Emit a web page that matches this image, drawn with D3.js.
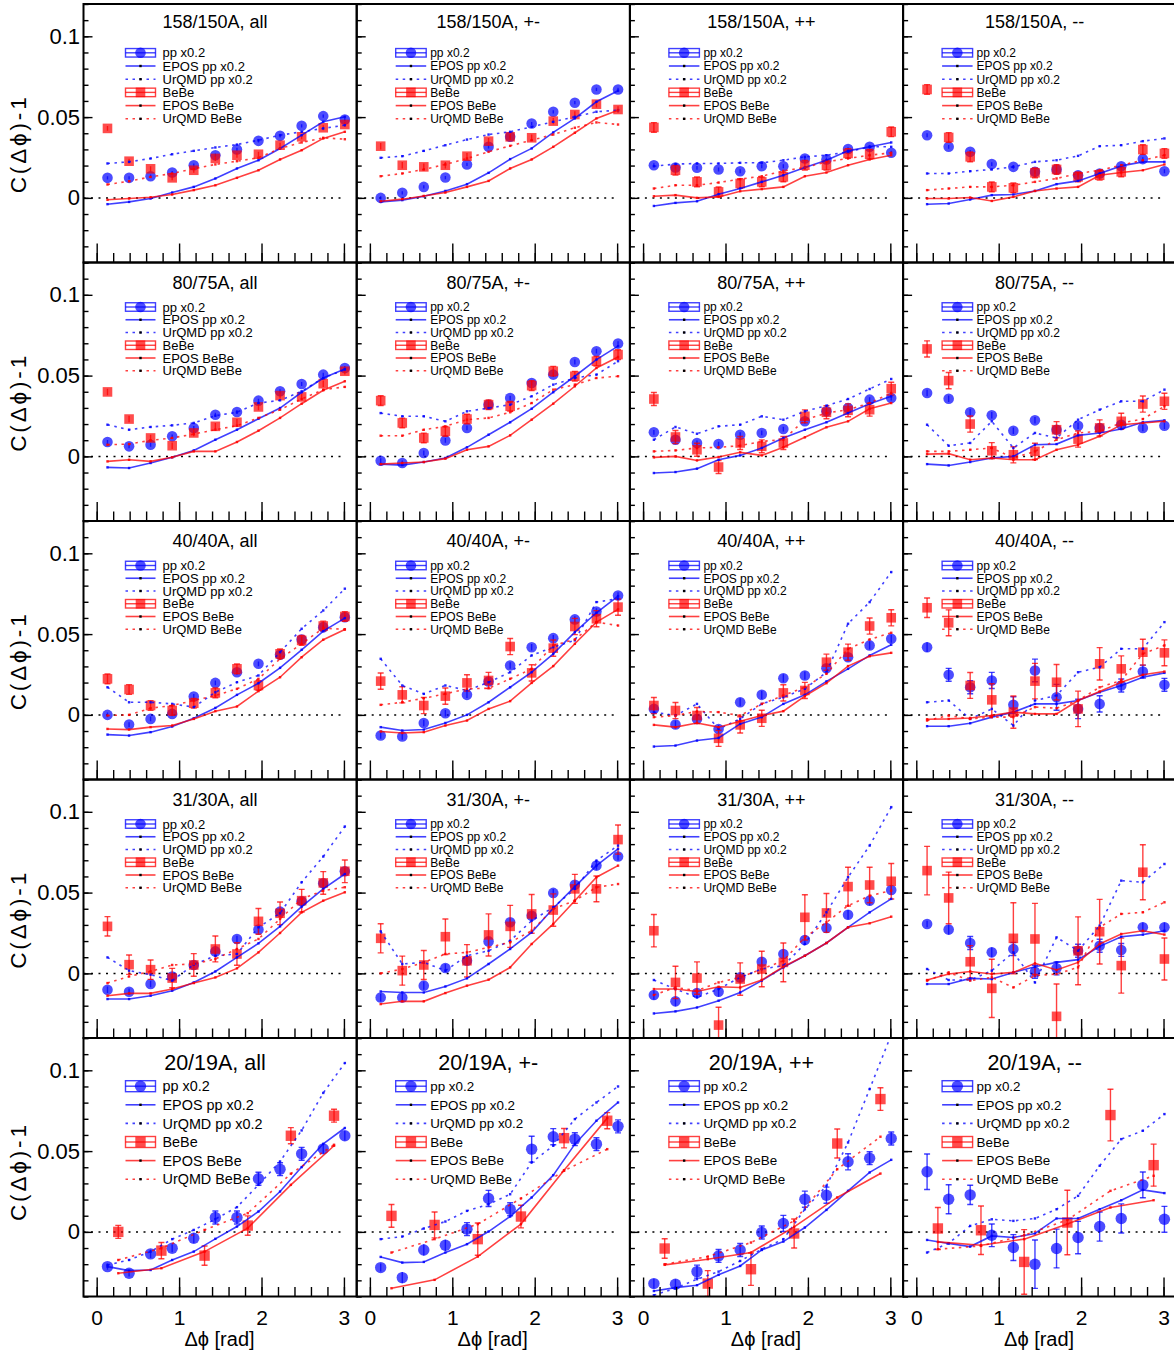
<!DOCTYPE html>
<html>
<head>
<meta charset="utf-8">
<script src="https://cdn.jsdelivr.net/npm/d3@7"></script>
<style>
  body { margin: 0; background: #fff; }
  svg text { font-family: "Liberation Sans", Arial, sans-serif; fill: #000; }
</style>
</head>
<body>
<div id="chart"></div>
<script>
// beam momenta (rows) and charge combinations (columns)
const energies = ["158/150A", "80/75A", "40/40A", "31/30A", "20/19A"];
const charges = ["all", "+-", "++", "--"];
const legendLabels = ["pp x0.2", "EPOS pp x0.2", "UrQMD pp x0.2", "BeBe", "EPOS BeBe", "UrQMD BeBe"];

// bin centres in delta phi
const bins12 = [0.131, 0.393, 0.654, 0.916, 1.178, 1.440, 1.702, 1.963, 2.225, 2.487, 2.749, 3.011];
const bins6 = [0.262, 0.785, 1.309, 1.833, 2.356, 2.880];

// panels are listed row by row: 158 (all,+-,++,--), 80, 40, 31, 20
const ppData = [
  [0.0124, 0.0124, 0.0134, 0.0157, 0.0202, 0.0264, 0.030, 0.0353, 0.0384, 0.0446, 0.0506, 0.0485],
  [0.0, 0.0031, 0.0068, 0.0126, 0.0207, 0.0316, 0.0378, 0.046, 0.0533, 0.0589, 0.0671, 0.0671],
  [0.0202, 0.0188, 0.0186, 0.0176, 0.0165, 0.0196, 0.0196, 0.0244, 0.0238, 0.0302, 0.0316, 0.0279],
  [0.0388, 0.0316, 0.0285, 0.0209, 0.0192, 0.0161, 0.0176, 0.014, 0.0151, 0.0196, 0.024, 0.0165],
  [0.0089, 0.0062, 0.0072, 0.0124, 0.0176, 0.0258, 0.0275, 0.0345, 0.0403, 0.0448, 0.0506, 0.0547],
  [-0.0027, -0.0041, 0.0021, 0.0099, 0.0176, 0.032, 0.0361, 0.0454, 0.0506, 0.0584, 0.0651, 0.0698],
  [0.0149, 0.0103, 0.0083, 0.0076, 0.0134, 0.0145, 0.0169, 0.0217, 0.0279, 0.0299, 0.0351, 0.0361],
  [0.0392, 0.0357, 0.0273, 0.0254, 0.0159, 0.0223, 0.0165, 0.019, 0.0176, 0.0196, 0.0176, 0.019],
  [0.0, -0.006, -0.0025, 0.0006, 0.0114, 0.0198, 0.0264, 0.0316, 0.0372, 0.0467, 0.0543, 0.0605],
  [-0.0128, -0.0134, -0.005, 0.001, 0.0124, 0.0207, 0.0306, 0.0419, 0.0475, 0.0591, 0.064, 0.0739],
  [0.0037, -0.006, -0.0025, -0.0087, 0.0078, 0.0124, 0.0227, 0.0244, 0.0289, 0.0357, 0.043, 0.0471],
  [0.0419, 0.0248, 0.0171, 0.0213, 0.0062, 0.0275, 0.0109, 0.0037, 0.0068, 0.0182, 0.0268, 0.0186],
  [-0.0101, -0.0114, -0.0066, -0.0019, 0.0052, 0.0136, 0.0213, 0.0271, 0.0382, 0.0446, 0.0558, 0.0632],
  [-0.0149, -0.0149, -0.0076, 0.0033, 0.0078, 0.0198, 0.0316, 0.0357, 0.0498, 0.0549, 0.0667, 0.0723],
  [-0.0134, -0.0173, -0.0122, -0.0114, -0.0025, 0.0072, 0.012, 0.0207, 0.0281, 0.0363, 0.045, 0.0516],
  [0.0306, 0.0271, 0.0188, 0.013, 0.0151, 0.001, 0.0031, 0.014, 0.0171, 0.0145, 0.0285, 0.0285],
  [-0.0215, -0.0256, -0.0136, -0.0101, -0.0039, 0.0089, 0.0089, 0.0329, 0.0388, 0.0483, 0.0514, 0.0595],
  [-0.0221, -0.0283, -0.0112, -0.0083, 0.0017, 0.0207, 0.014, 0.0512, 0.0589, 0.0574, 0.0543, 0.0653],
  [-0.032, -0.0324, -0.0246, -0.0149, -0.0112, -0.0004, 0.0052, 0.0202, 0.0227, 0.0434, 0.0456, 0.0578],
  [0.0372, 0.0202, 0.0229, -0.0021, -0.0097, -0.02, -0.0103, -0.0035, 0.0033, 0.0083, 0.0291, 0.0078]
];
const ppErr = [
  0.001, 0.001, 0.0012, 0.0012,
  0.0012, 0.0015, 0.0015, 0.002,
  0.0015, 0.002, 0.0025,
  [0.003, 0.004, 0.004, 0.005, 0.005, 0.007, 0.008, 0.006, 0.005, 0.004, 0.004, 0.004],
  0.002, 0.0025, 0.003,
  [0.002, 0.003, 0.004, 0.003, 0.004, 0.004, 0.004, 0.004, 0.004, 0.004, 0.003, 0.003],
  [0.002, 0.002, 0.0025, 0.0025, 0.003, 0.004, 0.004, 0.004, 0.004, 0.004, 0.003, 0.003],
  [0.0025, 0.0035, 0.0035, 0.0035, 0.004, 0.005, 0.004, 0.008, 0.005, 0.004, 0.004, 0.004],
  [0.003, 0.003, 0.004, 0.004, 0.004, 0.004, 0.005, 0.005, 0.005, 0.005, 0.004, 0.004],
  [0.011, 0.009, 0.006, 0.007, 0.008, 0.015, 0.012, 0.01, 0.009, 0.009, 0.008, 0.008]
];

const beData = [
  [0.043, 0.0227, 0.018, 0.0124, 0.0171, 0.0244, 0.0264, 0.027, 0.0326, 0.0378, 0.0434, 0.0454],
  [0.032, 0.0202, 0.0192, 0.0202, 0.0258, 0.0351, 0.0378, 0.0372, 0.0475, 0.0516, 0.058, 0.0547],
  [0.0436, 0.0171, 0.0099, 0.0037, 0.0089, 0.0099, 0.013, 0.0202, 0.0202, 0.0275, 0.027, 0.0409],
  [0.0671, 0.0374, 0.0254, 0.0068, 0.0062, 0.0155, 0.0176, 0.013, 0.014, 0.0161, 0.0299, 0.0275],
  [0.0399, 0.0231, 0.0114, 0.0066, 0.0145, 0.0186, 0.0211, 0.0306, 0.0376, 0.0368, 0.045, 0.0527],
  [0.0345, 0.0207, 0.0114, 0.0155, 0.0231, 0.032, 0.031, 0.0438, 0.0527, 0.0496, 0.0589, 0.063],
  [0.0355, 0.012, 0.0041, -0.0066, 0.0083, 0.0062, 0.0083, 0.0248, 0.0273, 0.0285, 0.0289, 0.0419],
  [0.0665, 0.0469, 0.02, 0.0035, 0.001, 0.0031, 0.0165, 0.0107, 0.0176, 0.0217, 0.0324, 0.0341],
  [0.0223, 0.0157, 0.0058, 0.0027, 0.0072, 0.0136, 0.0285, 0.0182, 0.0378, 0.0461, 0.055, 0.0609],
  [0.0209, 0.0124, 0.0058, 0.0116, 0.0198, 0.0213, 0.0423, 0.026, 0.0413, 0.0547, 0.0595, 0.0667],
  [0.0058, 0.0027, -0.0004, -0.0145, -0.0062, -0.0021, 0.0136, 0.0151, 0.0326, 0.0388, 0.055, 0.0601],
  [0.0663, 0.057, 0.0182, 0.0093, 0.0017, 0.0209, 0.0202, 0.0037, 0.0316, 0.0285, 0.0388, 0.0384],
  [0.0291, 0.0054, 0.0023, -0.0029, 0.0052, 0.0151, 0.012, 0.0322, 0.0372, 0.045, 0.056, 0.0632],
  [0.0217, 0.0017, 0.0052, 0.0227, 0.0078, 0.0238, 0.0291, 0.0368, 0.0392, 0.0523, 0.0523, 0.0828],
  [0.0264, -0.0056, -0.0029, -0.032, -0.0035, 0.0027, 0.0068, 0.0347, 0.0374, 0.0537, 0.0547, 0.057],
  [0.0636, 0.0467, 0.0072, -0.0093, 0.0217, 0.0213, -0.0266, 0.014, 0.0258, 0.0048, 0.0626, 0.0089],
  [0.0, -0.0116, -0.0147, 0.0039, 0.0595, 0.0719],
  [0.0099, 0.0043, -0.0045, 0.0095, 0.058, 0.0688],
  [-0.0103, -0.032, -0.0231, -0.001, 0.0547, 0.0822],
  [0.0021, 0.001, -0.0186, 0.0058, 0.0723, 0.0413]
];
const beErr = [
  0.0015, 0.002, 0.003, 0.003,
  0.002, 0.003, 0.004, 0.005,
  0.003, 0.005, 0.005,
  [0.006, 0.008, 0.008, 0.01, 0.01, 0.011, 0.011, 0.011, 0.01, 0.008, 0.008, 0.008],
  [0.006, 0.006, 0.006, 0.006, 0.007, 0.008, 0.007, 0.008, 0.007, 0.007, 0.007, 0.007],
  [0.009, 0.009, 0.009, 0.011, 0.01, 0.013, 0.013, 0.012, 0.01, 0.009, 0.008, 0.009],
  [0.01, 0.01, 0.01, 0.011, 0.01, 0.011, 0.012, 0.014, 0.012, 0.012, 0.011, 0.011],
  [0.015, 0.016, 0.01, 0.018, 0.022, 0.022, 0.02, 0.021, 0.02, 0.017, 0.017, 0.013],
  [0.004, 0.005, 0.006, 0.006, 0.005, 0.004],
  [0.007, 0.008, 0.01, 0.007, 0.006, 0.005],
  [0.006, 0.008, 0.01, 0.009, 0.009, 0.007],
  [0.013, 0.015, 0.02, 0.02, 0.016, 0.013]
];

const eposPP = [
  [-0.0039, -0.0025, -0.0004, 0.0033, 0.0068, 0.012, 0.0182, 0.0233, 0.0306, 0.0388, 0.0471, 0.0502],
  [-0.0025, -0.0014, 0.001, 0.0043, 0.0085, 0.0155, 0.024, 0.0306, 0.0405, 0.0492, 0.0595, 0.0663],
  [-0.005, -0.0031, -0.0021, 0.0023, 0.0058, 0.0099, 0.014, 0.0188, 0.0233, 0.0291, 0.0316, 0.0343],
  [-0.0039, -0.0035, -0.001, 0.0017, 0.0021, 0.0043, 0.0085, 0.0105, 0.0151, 0.0198, 0.0223, 0.0223],
  [-0.0068, -0.0072, -0.0041, -0.0006, 0.0037, 0.0103, 0.0165, 0.0233, 0.0299, 0.0397, 0.0485, 0.0541],
  [-0.0048, -0.0054, -0.0035, -0.001, 0.0056, 0.0134, 0.0211, 0.0295, 0.0397, 0.0496, 0.0599, 0.0682],
  [-0.0103, -0.0097, -0.0076, -0.0021, 0.0006, 0.0052, 0.0114, 0.0165, 0.0211, 0.0268, 0.0326, 0.0372],
  [-0.0048, -0.0056, -0.0035, -0.001, 0.0, 0.0072, 0.0076, 0.013, 0.0145, 0.0169, 0.0211, 0.0223],
  [-0.0122, -0.0128, -0.0107, -0.0072, -0.0021, 0.0043, 0.0124, 0.0196, 0.0291, 0.0403, 0.0518, 0.0599],
  [-0.0076, -0.0097, -0.0091, -0.005, 0.0, 0.0078, 0.0171, 0.0264, 0.0378, 0.0512, 0.0632, 0.0735],
  [-0.0196, -0.019, -0.0159, -0.0143, -0.0056, -0.0014, 0.0068, 0.0124, 0.0207, 0.0285, 0.0368, 0.0434],
  [-0.007, -0.007, -0.0052, -0.0014, 0.0017, 0.0068, 0.0068, 0.0089, 0.014, 0.0182, 0.0233, 0.026],
  [-0.0159, -0.0159, -0.0138, -0.0107, -0.0056, 0.0012, 0.0099, 0.0186, 0.0291, 0.0413, 0.0523, 0.0615],
  [-0.0112, -0.0118, -0.0118, -0.0081, -0.0031, 0.0058, 0.0151, 0.0254, 0.0403, 0.0537, 0.0667, 0.077],
  [-0.0248, -0.0235, -0.0211, -0.0169, -0.0118, -0.0045, 0.0037, 0.0109, 0.0188, 0.0285, 0.0378, 0.0461],
  [-0.0066, -0.0066, -0.0031, -0.0035, 0.0006, 0.0041, 0.0068, 0.0085, 0.0167, 0.0227, 0.024, 0.0264],
  [-0.0215, -0.024, -0.0236, -0.0174, -0.0122, -0.0043, 0.0033, 0.0126, 0.025, 0.0401, 0.0545, 0.0643],
  [-0.0155, -0.019, -0.0186, -0.0128, -0.0076, 0.0002, 0.0095, 0.0213, 0.0351, 0.0543, 0.0688, 0.0801],
  [-0.0366, -0.0345, -0.033, -0.0266, -0.0211, -0.0112, -0.006, 0.0027, 0.0136, 0.0254, 0.0368, 0.0446],
  [-0.005, -0.0072, -0.0091, -0.0025, -0.0035, -0.001, 0.0083, 0.0083, 0.014, 0.0196, 0.026, 0.024]
];

const eposBe = [
  [-0.0012, -0.0004, 0.0004, 0.0021, 0.0048, 0.0078, 0.0124, 0.0171, 0.0238, 0.0295, 0.0368, 0.0409],
  [-0.0021, -0.0008, 0.0012, 0.0033, 0.0068, 0.0105, 0.0182, 0.0238, 0.0316, 0.0403, 0.0492, 0.0543],
  [0.001, 0.0017, 0.0, 0.0006, 0.0041, 0.0054, 0.0068, 0.0134, 0.0157, 0.0202, 0.0238, 0.0264],
  [-0.0004, -0.0004, 0.0002, -0.0019, 0.0006, 0.0043, 0.0058, 0.0068, 0.014, 0.0157, 0.0171, 0.0207],
  [-0.0031, -0.0021, -0.0031, -0.0006, 0.0031, 0.0031, 0.0089, 0.0159, 0.0238, 0.0326, 0.0409, 0.0465],
  [-0.0048, -0.0041, -0.0035, -0.0014, 0.0041, 0.0062, 0.013, 0.0227, 0.0326, 0.0434, 0.0547, 0.0615],
  [-0.0006, 0.0, -0.0025, -0.0004, 0.0025, 0.0006, 0.0056, 0.0118, 0.018, 0.0217, 0.0295, 0.033],
  [0.0014, 0.0017, -0.0021, -0.001, -0.0021, -0.0021, 0.0041, 0.0072, 0.0124, 0.0196, 0.0207, 0.0217],
  [-0.0087, -0.0091, -0.0076, -0.0066, -0.0025, 0.0023, 0.0052, 0.0147, 0.0233, 0.0357, 0.0465, 0.0529],
  [-0.0103, -0.0112, -0.0107, -0.0066, -0.0035, 0.0037, 0.0085, 0.0198, 0.0302, 0.044, 0.0574, 0.0653],
  [-0.0062, -0.0076, -0.005, -0.0076, -0.0039, -0.0004, 0.0023, 0.0116, 0.0196, 0.0302, 0.0363, 0.0384],
  [-0.0027, -0.0025, -0.0019, -0.0004, 0.0017, 0.0006, 0.0006, 0.0089, 0.0145, 0.0202, 0.0248, 0.0268],
  [-0.0138, -0.0124, -0.0124, -0.0097, -0.006, -0.0025, 0.0031, 0.013, 0.025, 0.0378, 0.045, 0.0502],
  [-0.019, -0.0173, -0.0173, -0.0122, -0.0076, -0.0039, 0.0037, 0.0182, 0.0306, 0.045, 0.0595, 0.0667],
  [-0.0097, -0.0097, -0.0112, -0.0083, -0.0087, -0.0041, 0.0041, 0.0109, 0.0188, 0.0285, 0.031, 0.0351],
  [-0.0041, -0.0004, 0.0012, -0.0004, 0.0006, 0.0062, 0.0021, 0.0068, 0.0182, 0.0244, 0.0264, 0.024],
  [-0.0256, -0.0225, -0.0122, 0.0023, 0.0291, 0.0533],
  [-0.0349, -0.0297, -0.0153, 0.0048, 0.0382, 0.0704],
  [-0.0204, -0.0169, -0.0128, 0.0031, 0.0213, 0.0361],
  [-0.0062, -0.0083, -0.0045, 0.0048, 0.0151, 0.0196]
];

const urqmdPP = [
  [0.0213, 0.0223, 0.0244, 0.027, 0.0291, 0.0312, 0.033, 0.0357, 0.0388, 0.0409, 0.043, 0.045],
  [0.0248, 0.0258, 0.0291, 0.0326, 0.0361, 0.0392, 0.0409, 0.044, 0.0471, 0.0502, 0.0533, 0.0543],
  [0.0196, 0.0209, 0.0213, 0.0213, 0.0217, 0.0217, 0.0233, 0.0254, 0.0264, 0.0285, 0.0316, 0.0316],
  [0.0151, 0.0151, 0.0165, 0.0176, 0.0192, 0.0223, 0.0233, 0.026, 0.032, 0.0326, 0.0351, 0.0368],
  [0.0196, 0.0165, 0.0182, 0.0192, 0.0207, 0.0252, 0.0273, 0.033, 0.0347, 0.0403, 0.0485, 0.0537],
  [0.0268, 0.0248, 0.0248, 0.0217, 0.0279, 0.0299, 0.032, 0.0372, 0.0444, 0.0485, 0.0506, 0.0589],
  [0.0103, 0.0182, 0.014, 0.0186, 0.0196, 0.0248, 0.0227, 0.0279, 0.0314, 0.0355, 0.0417, 0.0479],
  [0.0196, 0.0066, 0.0083, 0.0217, 0.0052, 0.0145, 0.0114, 0.0227, 0.0289, 0.0341, 0.0341, 0.0413],
  [0.0171, 0.0078, 0.0078, 0.0068, 0.0048, 0.014, 0.0202, 0.0244, 0.0388, 0.0533, 0.0646, 0.0781],
  [0.0347, 0.0182, 0.013, 0.0182, 0.0151, 0.0202, 0.0264, 0.0368, 0.0419, 0.0461, 0.0698, 0.0719],
  [0.0017, -0.0004, 0.0068, -0.0087, -0.0025, 0.0068, 0.0109, 0.0161, 0.0264, 0.0564, 0.0698, 0.0884],
  [0.0078, 0.0089, -0.0025, 0.0037, -0.0066, 0.0089, 0.012, 0.0264, 0.0295, 0.0409, 0.0409, 0.0574],
  [0.0099, 0.0017, -0.0008, -0.0045, 0.0054, 0.0109, 0.012, 0.0285, 0.0372, 0.0564, 0.0723, 0.0909],
  [0.026, 0.0058, 0.0068, 0.0017, 0.0109, 0.014, 0.0202, 0.0326, 0.0409, 0.0523, 0.0698, 0.0791],
  [-0.0041, -0.0097, -0.0149, -0.0097, -0.0025, 0.0027, 0.0048, 0.0182, 0.0378, 0.0595, 0.0791, 0.1029],
  [0.0027, -0.0041, -0.0041, 0.0017, 0.013, -0.0056, 0.0223, 0.014, 0.0295, 0.0574, 0.0564, 0.0677],
  [-0.0205, -0.0174, -0.0122, -0.0045, 0.0012, 0.0079, 0.0153, 0.0291, 0.0436, 0.0628, 0.086, 0.1045],
  [-0.0045, -0.0029, 0.0021, 0.0064, 0.013, 0.0171, 0.0233, 0.043, 0.0533, 0.0698, 0.0801, 0.09],
  [-0.0392, -0.0349, -0.0293, -0.0246, -0.018, -0.0107, -0.0045, 0.014, 0.0285, 0.0553, 0.0884, 0.122],
  [-0.0128, -0.007, 0.0037, 0.0078, 0.0068, 0.0083, 0.014, 0.0223, 0.0409, 0.0574, 0.0626, 0.0729]
];

const urqmdBe = [
  [0.0083, 0.0103, 0.013, 0.0151, 0.018, 0.0207, 0.0227, 0.0248, 0.0306, 0.0343, 0.0372, 0.0363],
  [0.0134, 0.0151, 0.0176, 0.0207, 0.0244, 0.0285, 0.0322, 0.0357, 0.0392, 0.0434, 0.0467, 0.0454],
  [0.0058, 0.0078, 0.0078, 0.0095, 0.0116, 0.0134, 0.0167, 0.0188, 0.0223, 0.0244, 0.0264, 0.0279],
  [0.0048, 0.0058, 0.0068, 0.0068, 0.0078, 0.0099, 0.012, 0.0151, 0.0171, 0.0202, 0.0233, 0.0264],
  [0.0072, 0.0076, 0.0099, 0.0114, 0.0138, 0.0165, 0.019, 0.0238, 0.0289, 0.0355, 0.0413, 0.043],
  [0.0128, 0.0128, 0.0165, 0.0186, 0.0227, 0.0238, 0.0273, 0.033, 0.0413, 0.0444, 0.0485, 0.0496],
  [0.0031, 0.0037, 0.0052, 0.0056, 0.0066, 0.0093, 0.0103, 0.0227, 0.0268, 0.0289, 0.033, 0.0392],
  [0.0031, 0.0031, 0.0041, 0.0052, -0.001, 0.0031, 0.0103, 0.0145, 0.0155, 0.0207, 0.0231, 0.031],
  [-0.0004, 0.0, 0.0041, 0.0058, 0.0089, 0.012, 0.0161, 0.0223, 0.0347, 0.044, 0.0537, 0.0529],
  [0.0062, 0.0078, 0.0103, 0.013, 0.0161, 0.0165, 0.0223, 0.0285, 0.043, 0.0467, 0.0574, 0.0553],
  [-0.0014, -0.0004, 0.0021, 0.0017, -0.0004, 0.0068, 0.012, 0.0171, 0.0254, 0.0409, 0.0467, 0.0508],
  [-0.0035, -0.0004, -0.0025, -0.0014, -0.0014, 0.0048, 0.0041, 0.0089, 0.0171, 0.0213, 0.0378, 0.043],
  [-0.006, -0.0019, 0.0012, 0.0052, 0.0058, 0.0089, 0.0151, 0.0213, 0.0337, 0.0461, 0.0512, 0.0533],
  [0.0, 0.0027, 0.0068, 0.012, 0.013, 0.0161, 0.0192, 0.0264, 0.0399, 0.045, 0.0533, 0.0553],
  [-0.0134, -0.0087, -0.0107, -0.0056, -0.0025, 0.0027, 0.0078, 0.0223, 0.0316, 0.0419, 0.0481, 0.0512],
  [-0.0045, 0.0006, -0.0045, -0.0025, -0.0087, -0.0014, -0.0004, 0.0037, 0.0285, 0.0368, 0.0378, 0.044],
  [-0.0174, -0.0101, 0.0012, 0.0116, 0.036, 0.0539],
  [-0.0128, -0.0045, 0.0048, 0.0207, 0.0378, 0.0512],
  [-0.02, -0.0153, -0.0066, 0.0068, 0.0388, 0.0589],
  [-0.0107, -0.0087, -0.0021, 0.0074, 0.0254, 0.0347]
];

const xMajorTicks = [0, 1, 2, 3];
const yMajorTicks = [0, 0.05, 0.1];

const W = 1174, H = 1354;
const left0 = 83.5, top0 = 4, panelW = 273.2, panelH = 258.5;
const blue = '#0000ff', red = '#ff0000';

const svg = d3.select('#chart').append('svg')
  .attr('width', W)
  .attr('height', H);

const x = d3.scaleLinear().domain([-0.16, 3.155]).range([0, panelW]);
const y = d3.scaleLinear().domain([-0.04, 0.12]).range([panelH, 0]);

const xMinorTicks = d3.range(0, 16).map(i => i * 0.2);
const yMinorTicks = d3.range(-4, 13).map(i => i / 100);

function errAt(err, i) {
  return Array.isArray(err) ? err[i] : err;
}

function drawModel(g, xs, vals, color, dashed) {
  const pts = xs.map((xv, i) => [xv, vals[i]]);
  const line = d3.line().x(d => x(d[0])).y(d => y(d[1]));
  g.append('path')
    .datum(pts)
    .attr('fill', 'none')
    .attr('stroke', color)
    .attr('stroke-opacity', 0.75)
    .attr('stroke-width', 1.6)
    .attr('stroke-dasharray', dashed ? '2.5,4.5' : null)
    .attr('d', line);
  g.selectAll(null)
    .data(pts)
    .enter().append('rect')
    .attr('x', d => x(d[0]) - 1.2)
    .attr('y', d => y(d[1]) - 1.2)
    .attr('width', 2.4)
    .attr('height', 2.4)
    .attr('fill', color)
    .attr('opacity', 0.85);
}

function drawData(g, xs, vals, err, color, shape, size) {
  const pts = xs.map((xv, i) => ({ x: xv, v: vals[i], e: errAt(err, i) }));
  const eb = g.append('g')
    .attr('stroke', color)
    .attr('stroke-opacity', 0.75)
    .attr('stroke-width', 1.4);
  pts.forEach(d => {
    const cx = x(d.x), y1 = y(d.v - d.e), y2 = y(d.v + d.e);
    eb.append('line').attr('x1', cx).attr('x2', cx).attr('y1', y1).attr('y2', y2);
    if (y1 - y2 > size * 2) {
      eb.append('line').attr('x1', cx - 3).attr('x2', cx + 3).attr('y1', y1).attr('y2', y1);
      eb.append('line').attr('x1', cx - 3).attr('x2', cx + 3).attr('y1', y2).attr('y2', y2);
    }
  });
  if (shape === 'circle') {
    g.selectAll(null)
      .data(pts)
      .enter().append('circle')
      .attr('cx', d => x(d.x))
      .attr('cy', d => y(d.v))
      .attr('r', size)
      .attr('fill', color)
      .attr('fill-opacity', 0.7);
  } else {
    g.selectAll(null)
      .data(pts)
      .enter().append('rect')
      .attr('x', d => x(d.x) - size)
      .attr('y', d => y(d.v) - size)
      .attr('width', size * 2)
      .attr('height', size * 2)
      .attr('fill', color)
      .attr('fill-opacity', 0.7);
  }
}

function drawLegend(g, r, c) {
  const bottomRow = r === 4;
  const y0 = bottomRow ? 48.2 : (r === 0 ? 48.8 : 44.5);
  const dy = bottomRow ? 18.6 : (r === 0 ? 13.2 : 12.75);
  const sx0 = c === 0 ? 42 : 39;
  const sx1 = c === 0 ? 72 : 69.5;
  const tx = c === 0 ? 79 : 73.5;
  const fs = bottomRow ? (c === 0 ? 14.4 : 13.4) : (c === 0 ? 13 : 12);
  const boxH = bottomRow ? 11 : 8.5;
  const mid = (sx0 + sx1) / 2;
  legendLabels.forEach((label, i) => {
    const cy = y0 + i * dy;
    const color = i < 3 ? blue : red;
    const kind = i % 3;
    if (kind === 0) {
      g.append('rect')
        .attr('x', sx0).attr('y', cy - boxH / 2)
        .attr('width', sx1 - sx0).attr('height', boxH)
        .attr('fill', 'none')
        .attr('stroke', color).attr('stroke-opacity', 0.75).attr('stroke-width', 1.4);
      g.append('line')
        .attr('x1', sx0).attr('x2', sx1).attr('y1', cy).attr('y2', cy)
        .attr('stroke', color).attr('stroke-opacity', 0.75).attr('stroke-width', 1.4);
      if (i === 0) {
        g.append('circle').attr('cx', mid).attr('cy', cy).attr('r', bottomRow ? 5.7 : 5.3)
          .attr('fill', color).attr('fill-opacity', 0.7);
      } else {
        const s = bottomRow ? 5.2 : 4.8;
        g.append('rect').attr('x', mid - s).attr('y', cy - s).attr('width', 2 * s).attr('height', 2 * s)
          .attr('fill', color).attr('fill-opacity', 0.7);
      }
    } else {
      g.append('line')
        .attr('x1', sx0).attr('x2', sx1).attr('y1', cy).attr('y2', cy)
        .attr('stroke', color).attr('stroke-opacity', 0.75).attr('stroke-width', 1.6)
        .attr('stroke-dasharray', kind === 2 ? '2.5,4.5' : null);
      g.append('rect').attr('x', mid - 1.2).attr('y', cy - 1.2).attr('width', 2.4).attr('height', 2.4)
        .attr('fill', '#000');
    }
    g.append('text')
      .attr('x', tx)
      .attr('y', cy + fs * 0.36)
      .style('font-size', fs + 'px')
      .text(label);
  });
}

function drawPanel(r, c) {
  const idx = r * charges.length + c;
  const bottomRow = r === energies.length - 1;
  const left = left0 + c * panelW, top = top0 + r * panelH;
  const g = svg.append('g').attr('transform', `translate(${left},${top})`);

  const clipId = 'clip' + idx;
  g.append('clipPath').attr('id', clipId)
    .append('rect').attr('width', panelW).attr('height', panelH);
  const plot = g.append('g').attr('clip-path', `url(#${clipId})`);

  // zero reference
  plot.append('line')
    .attr('x1', x(-0.16)).attr('x2', x(3))
    .attr('y1', y(0)).attr('y2', y(0))
    .attr('stroke', '#000')
    .attr('stroke-width', 1.5)
    .attr('stroke-dasharray', '2,5.5');

  const xsBe = bottomRow ? bins6 : bins12;
  const mSize = bottomRow ? 5.7 : 5.3;

  drawData(plot, bins12, ppData[idx], ppErr[idx], blue, 'circle', mSize);
  drawData(plot, xsBe, beData[idx], beErr[idx], red, 'square', mSize - 0.5);
  drawModel(plot, bins12, eposPP[idx], blue, false);
  drawModel(plot, bins12, urqmdPP[idx], blue, true);
  drawModel(plot, xsBe, eposBe[idx], red, false);
  drawModel(plot, xsBe, urqmdBe[idx], red, true);

  // axes: ticks inside the frame, labels only on outer panels
  const styleAxis = s => {
    s.select('.domain').remove();
    s.selectAll('.tick line').attr('stroke', '#000').attr('stroke-width', 1.4);
  };
  g.append('g')
    .attr('transform', `translate(0,${panelH})`)
    .call(d3.axisBottom(x).tickValues(xMinorTicks).tickSize(-9.5).tickFormat(''))
    .call(styleAxis);
  g.append('g')
    .attr('transform', `translate(0,${panelH})`)
    .call(d3.axisBottom(x).tickValues(xMajorTicks).tickSize(-19).tickPadding(14)
      .tickFormat(bottomRow ? d3.format('d') : ''))
    .call(styleAxis)
    .call(s => s.selectAll('text').style('font-size', '21px').attr('fill', '#000'));

  g.append('g')
    .call(d3.axisLeft(y).tickValues(yMinorTicks).tickSize(-5).tickFormat(''))
    .call(styleAxis);
  g.append('g')
    .call(d3.axisLeft(y).tickValues(yMajorTicks).tickSize(-9).tickPadding(3.5)
      .tickFormat(c === 0 ? (v => String(v)) : ''))
    .call(styleAxis)
    .call(s => s.selectAll('text').style('font-size', '22px').attr('fill', '#000'));

  // title
  g.append('text')
    .attr('x', 131.5)
    .attr('y', bottomRow ? 31.5 : (r === 0 ? 23.8 : 26))
    .attr('text-anchor', 'middle')
    .style('font-size', bottomRow ? '21.5px' : '18px')
    .text(`${energies[r]}, ${charges[c]}`);

  drawLegend(g, r, c);

  if (bottomRow) {
    g.append('text')
      .attr('x', 136)
      .attr('y', panelH + 49)
      .attr('text-anchor', 'middle')
      .style('font-size', '20px')
      .text('Δϕ [rad]');
  }
  if (c === 0) {
    const cy = bottomRow ? 1173 - top : panelH / 2 + 12;
    g.append('text')
      .attr('transform', `translate(${26 - left},${cy}) rotate(-90)`)
      .attr('text-anchor', 'middle')
      .attr('textLength', 96)
      .attr('lengthAdjust', 'spacing')
      .style('font-size', '22.5px')
      .text('C(Δϕ)-1');
  }

  g.append('rect')
    .attr('width', panelW)
    .attr('height', panelH)
    .attr('fill', 'none')
    .attr('stroke', '#000')
    .attr('stroke-width', 2);
}

energies.forEach((e, r) => charges.forEach((ch, c) => drawPanel(r, c)));
</script>
</body>
</html>
